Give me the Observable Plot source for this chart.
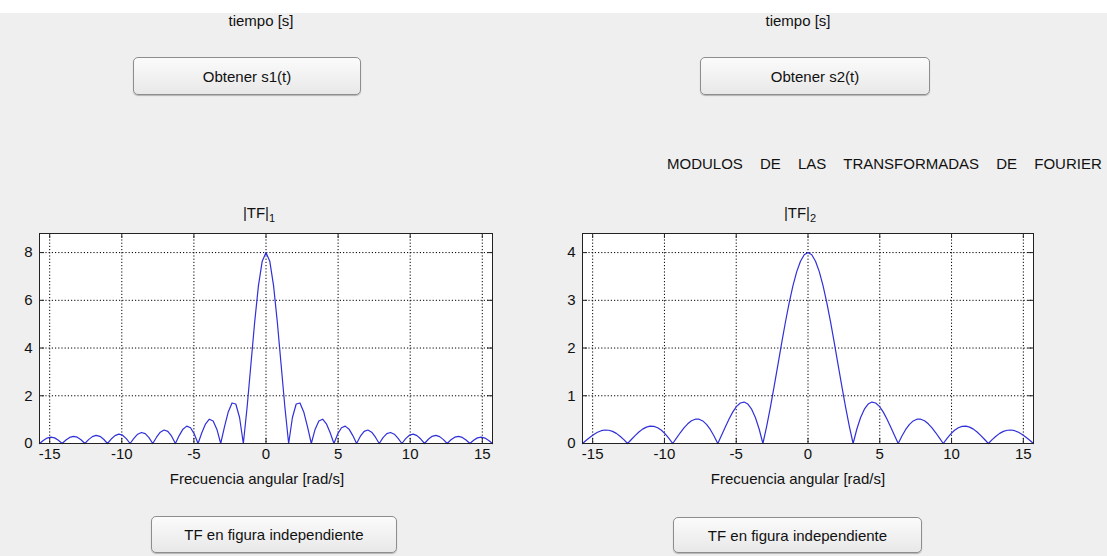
<!DOCTYPE html>
<html>
<head>
<meta charset="utf-8">
<script src="https://cdn.jsdelivr.net/npm/d3@7"></script>
<script src="https://cdn.jsdelivr.net/npm/@observablehq/plot@0.6"></script>
<style>
  html, body { margin: 0; padding: 0; background: #efefef; }
  #fig { position: relative; width: 1107px; height: 556px; overflow: hidden; background: #efefef;
         font-family: "Liberation Sans", Arial, sans-serif; color: #111; }
  .band { position: absolute; left: 0; top: 0; width: 1107px; height: 13px; background: #fff; }
  .lbl { position: absolute; font-size: 15px; line-height: 1; white-space: nowrap; transform: translateX(-50%); }
  .lbl sub { font-size: 11px; vertical-align: -4px; line-height: 0; }
  .head { position: absolute; font-size: 15px; line-height: 1; white-space: nowrap; word-spacing: 13px; }
  .btn { position: absolute; box-sizing: border-box; border: 1px solid #8d8d8d; border-radius: 5px;
         background: linear-gradient(#fbfbfb, #e8e8e8); box-shadow: 0 1px 1px rgba(0,0,0,0.25);
         display: flex; align-items: center; justify-content: center; font-size: 15px; }
  .panel { position: absolute; top: 200px; }
</style>
</head>
<body>
<div id="fig">
  <div class="band"></div>
  <div class="lbl" style="left:261px; top:13px;">tiempo [s]</div>
  <div class="lbl" style="left:798px; top:13px;">tiempo [s]</div>
  <div class="btn" style="left:133px; top:57px; width:228px; height:38px;">Obtener s1(t)</div>
  <div class="btn" style="left:700px; top:57px; width:230px; height:38px;">Obtener s2(t)</div>
  <div class="head" style="left:667px; top:156px;">MODULOS DE LAS TRANSFORMADAS DE FOURIER</div>
  <div class="lbl" style="left:259px; top:205px;">|TF|<sub>1</sub></div>
  <div class="lbl" style="left:800px; top:205px;">|TF|<sub>2</sub></div>
  <div id="p1" class="panel" style="left:0px;"></div>
  <div id="p2" class="panel" style="left:540px;"></div>
  <div class="lbl" style="left:257px; top:471px;">Frecuencia angular [rad/s]</div>
  <div class="lbl" style="left:798px; top:471px;">Frecuencia angular [rad/s]</div>
  <div class="btn" style="left:151px; top:516px; width:246px; height:37px;">TF en figura independiente</div>
  <div class="btn" style="left:673px; top:517px; width:249px; height:36px;">TF en figura independiente</div>
</div>
<script>
// Angular frequency samples [rad/s], from -5π to 5π
const freq = [
  -15.708, -15.446, -15.184, -14.923, -14.661, -14.399, -14.137, -13.875, -13.614, -13.352,
  -13.090, -12.828, -12.566, -12.305, -12.043, -11.781, -11.519, -11.257, -10.996, -10.734,
  -10.472, -10.210, -9.948, -9.687, -9.425, -9.163, -8.901, -8.639, -8.378, -8.116,
  -7.854, -7.592, -7.330, -7.069, -6.807, -6.545, -6.283, -6.021, -5.760, -5.498,
  -5.236, -4.974, -4.712, -4.451, -4.189, -3.927, -3.665, -3.403, -3.142, -2.880,
  -2.618, -2.356, -2.094, -1.833, -1.571, -1.309, -1.047, -0.785, -0.524, -0.262,
  0,
  0.262, 0.524, 0.785, 1.047, 1.309, 1.571, 1.833, 2.094, 2.356, 2.618,
  2.880, 3.142, 3.403, 3.665, 3.927, 4.189, 4.451, 4.712, 4.974, 5.236,
  5.498, 5.760, 6.021, 6.283, 6.545, 6.807, 7.069, 7.330, 7.592, 7.854,
  8.116, 8.378, 8.639, 8.901, 9.163, 9.425, 9.687, 9.948, 10.210, 10.472,
  10.734, 10.996, 11.257, 11.519, 11.781, 12.043, 12.305, 12.566, 12.828, 13.090,
  13.352, 13.614, 13.875, 14.137, 14.399, 14.661, 14.923, 15.184, 15.446, 15.708
];

// |TF|1 : magnitude of the transform of s1(t)
const tf1 = [
  0, 0.129, 0.228, 0.268, 0.236, 0.139, 0, 0.144, 0.254, 0.300,
  0.265, 0.156, 0, 0.163, 0.288, 0.340, 0.301, 0.178, 0, 0.186,
  0.331, 0.392, 0.348, 0.206, 0, 0.218, 0.389, 0.463, 0.413, 0.246,
  0, 0.263, 0.473, 0.566, 0.509, 0.306, 0, 0.332, 0.601, 0.728,
  0.662, 0.402, 0, 0.449, 0.827, 1.019, 0.945, 0.588, 0, 0.694,
  1.323, 1.698, 1.654, 1.091, 0, 1.528, 3.308, 5.093, 6.616, 7.639,
  8,
  7.639, 6.616, 5.093, 3.308, 1.528, 0, 1.091, 1.654, 1.698, 1.323,
  0.694, 0, 0.588, 0.945, 1.019, 0.827, 0.449, 0, 0.402, 0.662,
  0.728, 0.601, 0.332, 0, 0.306, 0.509, 0.566, 0.473, 0.263, 0,
  0.246, 0.413, 0.463, 0.389, 0.218, 0, 0.206, 0.348, 0.392, 0.331,
  0.186, 0, 0.178, 0.301, 0.340, 0.288, 0.163, 0, 0.156, 0.265,
  0.300, 0.254, 0.144, 0, 0.139, 0.236, 0.268, 0.228, 0.129, 0
];

// |TF|2 : magnitude of the transform of s2(t)
const tf2 = [
  0, 0.067, 0.132, 0.190, 0.236, 0.268, 0.283, 0.278, 0.254, 0.212,
  0.153, 0.081, 0, 0.084, 0.166, 0.240, 0.301, 0.343, 0.364, 0.360,
  0.331, 0.277, 0.201, 0.107, 0, 0.113, 0.225, 0.327, 0.413, 0.476,
  0.509, 0.509, 0.473, 0.400, 0.294, 0.158, 0, 0.172, 0.347, 0.515,
  0.662, 0.777, 0.849, 0.868, 0.827, 0.720, 0.546, 0.304, 0, 0.359,
  0.764, 1.200, 1.654, 2.108, 2.546, 2.952, 3.308, 3.601, 3.820, 3.954,
  4,
  3.954, 3.820, 3.601, 3.308, 2.952, 2.546, 2.108, 1.654, 1.200, 0.764,
  0.359, 0, 0.304, 0.546, 0.720, 0.827, 0.868, 0.849, 0.777, 0.662,
  0.515, 0.347, 0.172, 0, 0.158, 0.294, 0.400, 0.473, 0.509, 0.509,
  0.476, 0.413, 0.327, 0.225, 0.113, 0, 0.107, 0.201, 0.277, 0.331,
  0.360, 0.364, 0.343, 0.301, 0.240, 0.166, 0.084, 0, 0.081, 0.153,
  0.212, 0.254, 0.278, 0.283, 0.268, 0.236, 0.190, 0.132, 0.067, 0
];

const xTicks = [-15, -10, -5, 0, 5, 10, 15];
const yTicks1 = [0, 2, 4, 6, 8];
const yTicks2 = [0, 1, 2, 3, 4];
const yMax1 = 8.8;   // 1.1 × peak
const yMax2 = 4.4;

function panel(values, yMax, yTicks, ml, mr) {
  const W = 540, H = 300, mt = 33, mb = 57;
  const innerW = W - ml - mr, innerH = H - mt - mb;
  const xLo = freq[0], xHi = freq[freq.length - 1];
  const tx = 5 * (xHi - xLo) / innerW;   // 5px inward tick, in data units
  const ty = 5 * yMax / innerH;
  const rows = freq.map((f, i) => ({f, m: values[i]}));
  const dotted = {stroke: "#000", strokeOpacity: 1, strokeDasharray: "1.2,2", strokeWidth: 1};
  const fmt = d => String(d);
  return Plot.plot({
    width: W, height: H,
    marginLeft: ml, marginRight: mr, marginTop: mt, marginBottom: mb,
    style: {background: "transparent", fontFamily: "'Liberation Sans', Arial, sans-serif", fontSize: "15px", color: "#111"},
    x: {domain: [xLo, xHi]},
    y: {domain: [0, yMax]},
    marks: [
      Plot.frame({fill: "white", stroke: null}),
      Plot.gridX({ticks: xTicks, ...dotted}),
      Plot.gridY({ticks: yTicks, ...dotted}),
      Plot.ruleX(xTicks, {y1: 0, y2: ty, stroke: "#222"}),
      Plot.ruleX(xTicks, {y1: yMax - ty, y2: yMax, stroke: "#222"}),
      Plot.ruleY(yTicks, {x1: xLo, x2: xLo + tx, stroke: "#222"}),
      Plot.ruleY(yTicks, {x1: xHi - tx, x2: xHi, stroke: "#222"}),
      Plot.line(rows, {x: "f", y: "m", stroke: "#3030d8", strokeWidth: 1.2}),
      Plot.frame({stroke: "#222", strokeWidth: 1}),
      Plot.axisX({ticks: xTicks, tickSize: 0, tickPadding: 5, tickFormat: fmt, label: null, fontSize: 15}),
      Plot.axisY({ticks: yTicks, tickSize: 0, tickPadding: 7, tickFormat: fmt, label: null, fontSize: 15})
    ]
  });
}

document.getElementById("p1").append(panel(tf1, yMax1, yTicks1, 39, 48));
document.getElementById("p2").append(panel(tf2, yMax2, yTicks2, 42, 47));
</script>
</body>
</html>
